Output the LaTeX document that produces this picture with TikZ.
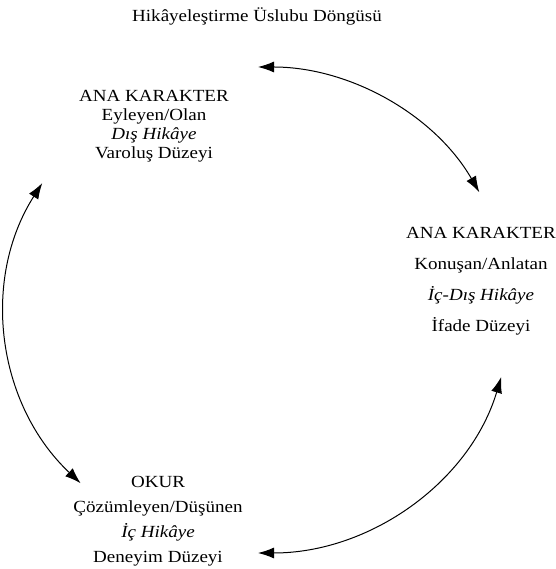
\documentclass[tikz,border=0pt]{standalone}
\usepackage{fontspec}
\setmainfont{Liberation Serif}[FakeStretch=1.12]
\usetikzlibrary{arrows.meta,calc}
\begin{document}
\begin{tikzpicture}[x=1pt,y=1pt,
  lbl/.style={align=center, inner sep=0pt, anchor=north},
  tip/.tip={Latex[length=16pt,width=11pt]},
  conn/.style={line width=1pt, tip-tip}]
\useasboundingbox (0,0) rectangle (555,569);
\node[anchor=base, inner sep=0pt, font=\fontsize{17}{19}\selectfont] (title) at (257,547) {Hikâyeleştirme Üslubu Döngüsü};
\node[lbl, font=\fontsize{17}{19}\selectfont] (actor) at (154,478.5) {ANA KARAKTER\\Eyleyen/Olan\\\textit{Dış Hikâye}\\Varoluş Düzeyi};
\node[lbl, font=\fontsize{17}{31}\selectfont] (narrator) at (481,341.5) {ANA KARAKTER\\Konuşan/Anlatan\\\textit{İç-Dış Hikâye}\\İfade Düzeyi};
\node[lbl, font=\fontsize{17}{25}\selectfont] (reader) at (158,92.5) {OKUR\\Çözümleyen/Düşünen\\\textit{İç Hikâye}\\Deneyim Düzeyi};
\coordinate (c) at (258,259);
\coordinate (a1) at ($(c)+(90:253pt and 243pt)$);
\coordinate (b1) at ($(c)+(148.5:253pt and 243pt)$);
\coordinate (c1) at ($(c)+(-16:253pt and 243pt)$);
\draw[conn] (a1) arc[start angle=90, end angle=29, x radius=253pt, y radius=243pt];
\draw[conn] (b1) arc[start angle=148.5, end angle=225.5, x radius=253pt, y radius=243pt];
\draw[conn] (c1) arc[start angle=-16, end angle=-90, x radius=253pt, y radius=243pt];
\end{tikzpicture}
\end{document}
